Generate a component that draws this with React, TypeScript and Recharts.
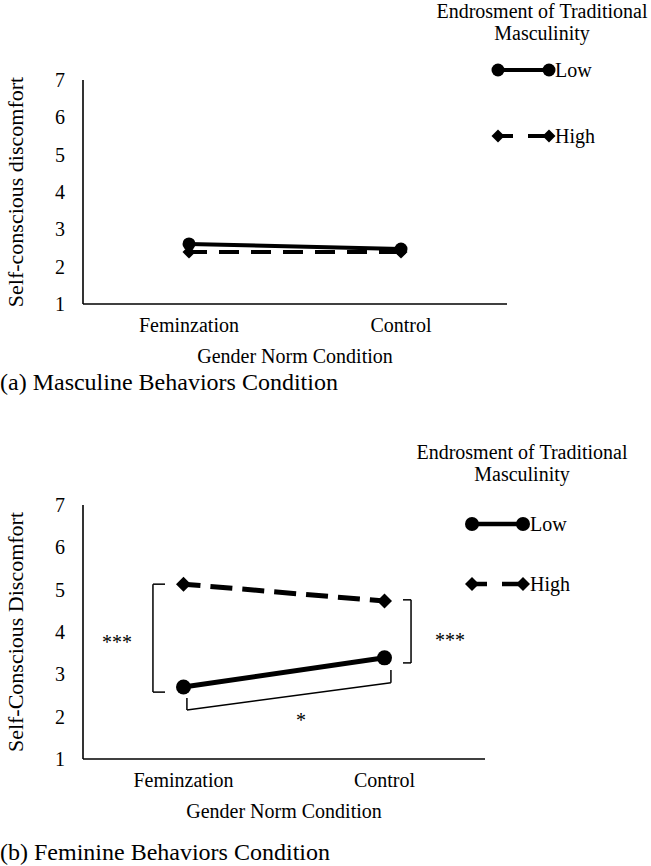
import React from 'react';
import { LineChart, Line, XAxis, YAxis, Legend, ReferenceLine, ReferenceDot, Label } from 'recharts';

const categories = ['Feminzation', 'Control'];
const yTicks = [1, 2, 3, 4, 5, 6, 7];
const seriesNames = ['Low', 'High'];
const legendTitle = ['Endrosment of Traditional', 'Masculinity'];

// (a) Masculine Behaviors Condition
const masculineLow = [2.61, 2.47];
const masculineHigh = [2.39, 2.39];
// (b) Feminine Behaviors Condition
const feminineLow = [2.7, 3.39];
const feminineHigh = [5.13, 4.73];

const FONT = '"Liberation Serif", "Times New Roman", serif';

const buildRows = (low: number[], high: number[]) =>
  categories.map((c, i) => ({ pos: i + 0.5, cond: c, low: low[i], high: high[i] }));

const makeCircle = (r: number) => (p: any) =>
  p.cx == null ? <g key={p.key} /> : <circle key={p.key} cx={p.cx} cy={p.cy} r={r} fill="#000" />;

const makeDiamond = (s: number) => (p: any) =>
  p.cx == null ? (
    <g key={p.key} />
  ) : (
    <polygon
      key={p.key}
      points={`${p.cx - s},${p.cy} ${p.cx},${p.cy - s} ${p.cx + s},${p.cy} ${p.cx},${p.cy + s}`}
      fill="#000"
    />
  );

const YTitle = (text: string) => (props: any) => {
  const vb = props.viewBox || {};
  const cx = vb.x + 15;
  const cy = vb.y + vb.height / 2;
  return (
    <text
      x={cx}
      y={cy}
      transform={`rotate(-90 ${cx} ${cy})`}
      textAnchor="middle"
      dominantBaseline="central"
      fontSize={22}
      fill="#000"
      fontFamily={FONT}
    >
      {text}
    </text>
  );
};

type LegendCfg = { width: number; titleTop: number; iconLeft: number; labelLeft: number; lowY: number; highY: number; r: number; s: number; sw: number };

const LegendContent = (cfg: LegendCfg) => () => (
  <div style={{ position: 'relative', width: cfg.width, height: cfg.highY + 20, fontFamily: FONT, color: '#000' }}>
    <div style={{ position: 'absolute', top: cfg.titleTop, left: 0, width: cfg.width, textAlign: 'center', fontSize: 20, lineHeight: '22px' }}>
      {legendTitle[0]}
      <br />
      {legendTitle[1]}
    </div>
    {[cfg.lowY, cfg.highY].map((y, idx) => (
      <div key={idx}>
        <svg style={{ position: 'absolute', left: cfg.iconLeft, top: y - 10 }} width={68} height={20}>
          {idx === 0 ? (
            <g>
              <line x1={8} y1={10} x2={59} y2={10} stroke="#000" strokeWidth={cfg.sw} />
              <circle cx={8} cy={10} r={cfg.r} fill="#000" />
              <circle cx={59} cy={10} r={cfg.r} fill="#000" />
            </g>
          ) : (
            <g>
              <line x1={8} y1={10} x2={23} y2={10} stroke="#000" strokeWidth={cfg.sw} />
              <line x1={38} y1={10} x2={59} y2={10} stroke="#000" strokeWidth={cfg.sw} />
              <polygon points={`${8 - cfg.s},10 8,${10 - cfg.s} ${8 + cfg.s},10 8,${10 + cfg.s}`} fill="#000" />
              <polygon points={`${59 - cfg.s},10 59,${10 - cfg.s} ${59 + cfg.s},10 59,${10 + cfg.s}`} fill="#000" />
            </g>
          )}
        </svg>
        <div style={{ position: 'absolute', left: cfg.labelLeft, top: y - 12, fontSize: 20, lineHeight: '24px' }}>
          {seriesNames[idx]}
        </div>
      </div>
    ))}
  </div>
);

type PanelProps = {
  low: number[];
  high: number[];
  yTitle: string;
  height: number;
  margin: { top: number; right: number; bottom: number; left: number };
  legendLeft: number;
  legend: LegendCfg;
  lineW: number;
  dash: string;
  dashOffset: number;
  r: number;
  s: number;
  children?: React.ReactNode;
};

const Panel = (p: PanelProps) => {
  const rows = buildRows(p.low, p.high);
  return (
    <LineChart width={651} height={p.height} data={rows} margin={p.margin} style={{ fontFamily: FONT }}>
      <XAxis
        dataKey="pos"
        type="number"
        domain={[0, 2]}
        ticks={[0.5, 1.5]}
        tickFormatter={(v: number) => categories[Math.floor(v)]}
        axisLine={{ stroke: '#000', strokeWidth: 1.6 }}
        tickLine={false}
        tickSize={0}
        tickMargin={14}
        height={60}
        tick={{ fill: '#000', fontSize: 20, fontFamily: FONT }}
      >
        <Label value="Gender Norm Condition" position="insideBottom" offset={1} fill="#000" fontSize={20} fontFamily={FONT} />
      </XAxis>
      <YAxis
        type="number"
        domain={[1, 7]}
        ticks={yTicks}
        interval={0}
        width={83}
        axisLine={{ stroke: '#000', strokeWidth: 1.6 }}
        tickLine={false}
        tickSize={0}
        tickMargin={18}
        tick={{ fill: '#000', fontSize: 20, fontFamily: FONT }}
      >
        <Label content={YTitle(p.yTitle)} />
      </YAxis>
      <Legend
        layout="vertical"
        align="center"
        verticalAlign="middle"
        wrapperStyle={{ position: 'absolute', left: p.legendLeft, top: 0, width: p.legend.width }}
        content={LegendContent(p.legend)}
      />
      {p.children}
      <Line
        dataKey="high"
        name={seriesNames[1]}
        stroke="#000"
        strokeWidth={p.lineW}
        strokeDasharray={p.dash}
        strokeDashoffset={p.dashOffset}
        dot={makeDiamond(p.s)}
        activeDot={false}
        isAnimationActive={false}
      />
      <Line
        dataKey="low"
        name={seriesNames[0]}
        stroke="#000"
        strokeWidth={p.lineW}
        dot={makeCircle(p.r)}
        activeDot={false}
        isAnimationActive={false}
      />
    </LineChart>
  );
};

const bracket = { stroke: '#000', strokeWidth: 1.5, ifOverflow: 'visible' as const };
const starLabel = (v: string) => ({ value: v, position: 'center' as const, fill: '#000', fontSize: 20, fontFamily: FONT });

export default function App() {
  return (
    <div style={{ position: 'absolute', left: 0, top: 0, width: 651, height: 866, background: '#fff', fontFamily: FONT }}>
      <div style={{ position: 'absolute', left: 0, top: 0 }}>
        <Panel
          low={masculineLow}
          high={masculineHigh}
          yTitle="Self-conscious discomfort"
          height={400}
          margin={{ top: 80, right: 144, bottom: 36, left: 0 }}
          legendLeft={433}
          legend={{ width: 218, titleTop: 0, iconLeft: 57, labelLeft: 122, lowY: 70, highY: 136, r: 6.5, s: 6.5, sw: 4 }}
          lineW={4}
          dash="20 12"
          dashOffset={2}
          r={6.5}
          s={6.5}
        />
      </div>
      <div style={{ position: 'absolute', left: 0, top: 368, fontSize: 24, lineHeight: '28px', whiteSpace: 'nowrap' }}>
        (a) Masculine Behaviors Condition
      </div>
      <div style={{ position: 'absolute', left: 0, top: 420 }}>
        <Panel
          low={feminineLow}
          high={feminineHigh}
          yTitle="Self-Conscious Discomfort"
          height={446}
          margin={{ top: 85, right: 166, bottom: 47, left: 0 }}
          legendLeft={412}
          legend={{ width: 220, titleTop: 21, iconLeft: 52, labelLeft: 118, lowY: 104, highY: 164, r: 7, s: 7, sw: 4.5 }}
          lineW={5}
          dash="22 10"
          dashOffset={5}
          r={7.5}
          s={7.5}
        >
          <ReferenceLine segment={[{ x: 0.408, y: 5.13 }, { x: 0.348, y: 5.13 }]} {...bracket} />
          <ReferenceLine segment={[{ x: 0.348, y: 5.13 }, { x: 0.348, y: 2.58 }]} {...bracket} />
          <ReferenceLine segment={[{ x: 0.348, y: 2.58 }, { x: 0.408, y: 2.58 }]} {...bracket} />
          <ReferenceLine segment={[{ x: 1.592, y: 4.76 }, { x: 1.632, y: 4.76 }]} {...bracket} />
          <ReferenceLine segment={[{ x: 1.632, y: 4.76 }, { x: 1.632, y: 3.27 }]} {...bracket} />
          <ReferenceLine segment={[{ x: 1.632, y: 3.27 }, { x: 1.592, y: 3.27 }]} {...bracket} />
          <ReferenceLine segment={[{ x: 0.517, y: 2.44 }, { x: 0.517, y: 2.16 }]} {...bracket} />
          <ReferenceLine segment={[{ x: 0.517, y: 2.16 }, { x: 1.532, y: 2.8 }]} {...bracket} />
          <ReferenceLine segment={[{ x: 1.532, y: 2.8 }, { x: 1.532, y: 3.1 }]} {...bracket} />
          <ReferenceDot x={0.169} y={3.76} r={0} fill="none" stroke="none" ifOverflow="visible" label={starLabel('***')} />
          <ReferenceDot x={1.826} y={3.81} r={0} fill="none" stroke="none" ifOverflow="visible" label={starLabel('***')} />
          <ReferenceDot x={1.085} y={1.92} r={0} fill="none" stroke="none" ifOverflow="visible" label={starLabel('*')} />
        </Panel>
      </div>
      <div style={{ position: 'absolute', left: 0, top: 838, fontSize: 24, lineHeight: '28px', whiteSpace: 'nowrap' }}>
        (b) Feminine Behaviors Condition
      </div>
    </div>
  );
}
